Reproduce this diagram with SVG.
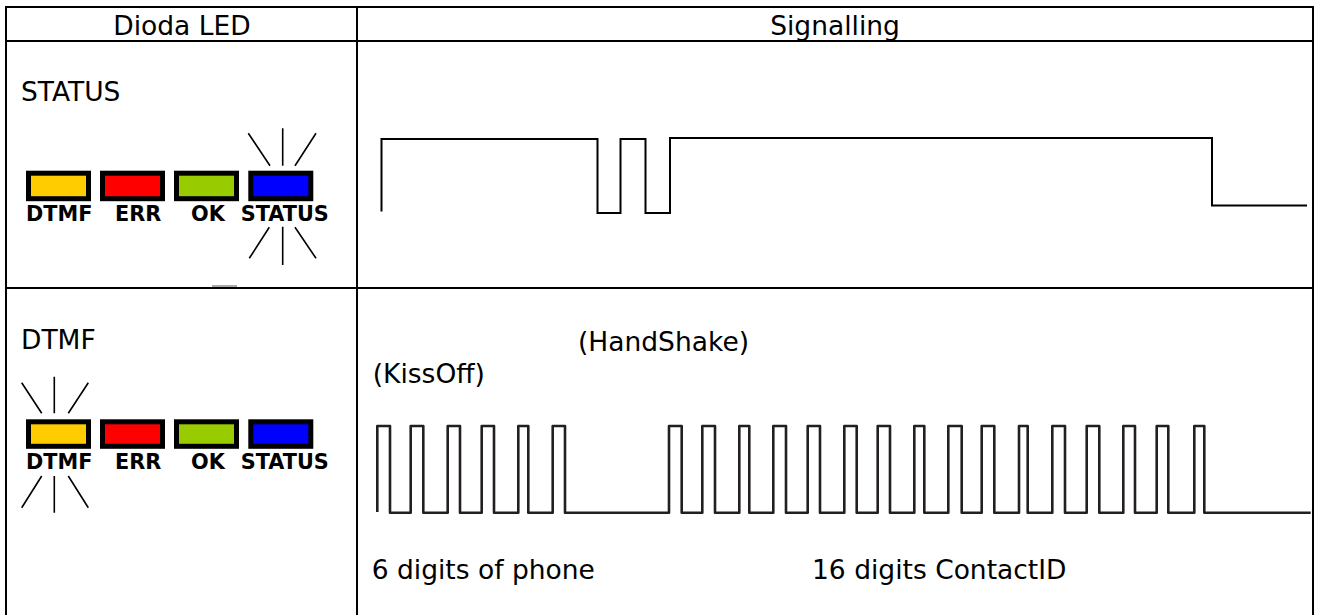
<svg xmlns="http://www.w3.org/2000/svg" width="1318" height="615" viewBox="0 0 1318 615">
<style>
.t{font-family:"DejaVu Sans","Verdana",sans-serif;font-size:26.5px;fill:#000}
.b{font-family:"DejaVu Sans","Verdana",sans-serif;font-size:20.8px;font-weight:bold;fill:#000}
.grid{stroke:#000;stroke-width:2;fill:none}
.led{stroke:#000;stroke-width:5}
.ray{stroke:#000;stroke-width:1.6;fill:none}
.wave{stroke:#000;stroke-width:2;fill:none}
.dwave{stroke:#231f20;stroke-width:2.6;fill:none;stroke-linejoin:round}
</style>
<rect width="1318" height="615" fill="#fff"/>
<g id="table">
<line class="grid" x1="6" y1="7" x2="1313" y2="7"/>
<line class="grid" x1="6" y1="6" x2="6" y2="615"/>
<line class="grid" x1="1313" y1="6" x2="1313" y2="615"/>
<line class="grid" x1="357" y1="7" x2="357" y2="615"/>
<line class="grid" x1="6" y1="41" x2="1313" y2="41"/>
<line class="grid" x1="6" y1="288" x2="1313" y2="288"/>
<rect x="212" y="285" width="25" height="2" fill="#aaa"/>
</g>
<g id="header">
<text class="t" x="182" y="35" text-anchor="middle">Dioda LED</text>
<text class="t" x="835" y="35" text-anchor="middle">Signalling</text>
</g>
<g id="row-status">
<text class="t" x="21" y="101">STATUS</text>
<rect class="led" x="28.5" y="173.2" width="60" height="25.5" fill="#FFCC00"/>
<rect class="led" x="102.5" y="173.2" width="60" height="25.5" fill="#FF0000"/>
<rect class="led" x="176.5" y="173.2" width="60" height="25.5" fill="#99CC00"/>
<rect class="led" x="250.8" y="173.2" width="60" height="25.5" fill="#0000FF"/>
<text class="b" x="26" y="221">DTMF</text>
<text class="b" x="115" y="221">ERR</text>
<text class="b" x="191" y="221">OK</text>
<text class="b" x="240.7" y="221">STATUS</text>
<path class="ray" d="M282.7,128.3V165.7M248.3,133.3L270,165.7M316,133.3L295,165.7M282.7,226.7V265M269.3,227.3L249.3,258.3M295,227.3L316,258.3"/>
</g>
<g id="row-dtmf">
<text class="t" x="21" y="349">DTMF</text>
<rect class="led" x="28.5" y="421.8" width="60" height="24.5" fill="#FFCC00"/>
<rect class="led" x="102.5" y="421.8" width="60" height="24.5" fill="#FF0000"/>
<rect class="led" x="176.5" y="421.8" width="60" height="24.5" fill="#99CC00"/>
<rect class="led" x="250.8" y="421.8" width="60" height="24.5" fill="#0000FF"/>
<text class="b" x="26" y="469">DTMF</text>
<text class="b" x="115" y="469">ERR</text>
<text class="b" x="191" y="469">OK</text>
<text class="b" x="240.7" y="469">STATUS</text>
<path class="ray" d="M54.3,376.7V413.3M21.7,382.7L41.7,413.3M88.3,382.7L68.3,413.3M54.3,476V512.7M41.7,476L21.7,507.7M68.3,476L88.3,507.7"/>
</g>
<g id="signals">
<path class="wave" d="M381.5,211.5V139H597.5V213H620.5V139H645.5V213H670V138H1212V205.5H1307"/>
<path class="dwave" d="M377.3,512V426H390V512.7H410.7V426H423.3V512.7H447.7V426H460V512.7H481.7V426H494V512.7H518.3V426H528.3V512.7H552.7V426H565V512.7H669V426H681.7V512.7H702.3V426H715V512.7H739.3V426H749.3V512.7H773.3V426H786V512.7H807.7V426H820V512.7H844.3V426H856.7V512.7H877.7V426H890V512.7H914.3V426H924.3V512.7H948.3V426H961.7V512.7H981.7V426H994.3V512.7H1019V426H1027.7V512.7H1052.3V426H1065V512.7H1086.7V426H1099.3V512.7H1123.3V426H1135V512.7H1156.7V426H1168.3V512.7H1194.3V426H1204.3V512.7H1310.7"/>
<text class="t" x="578" y="351">(HandShake)</text>
<text class="t" x="372.7" y="383">(KissOff)</text>
<text class="t" x="371.7" y="579">6 digits of phone</text>
<text class="t" x="812" y="579">16 digits ContactID</text>
</g>
</svg>
